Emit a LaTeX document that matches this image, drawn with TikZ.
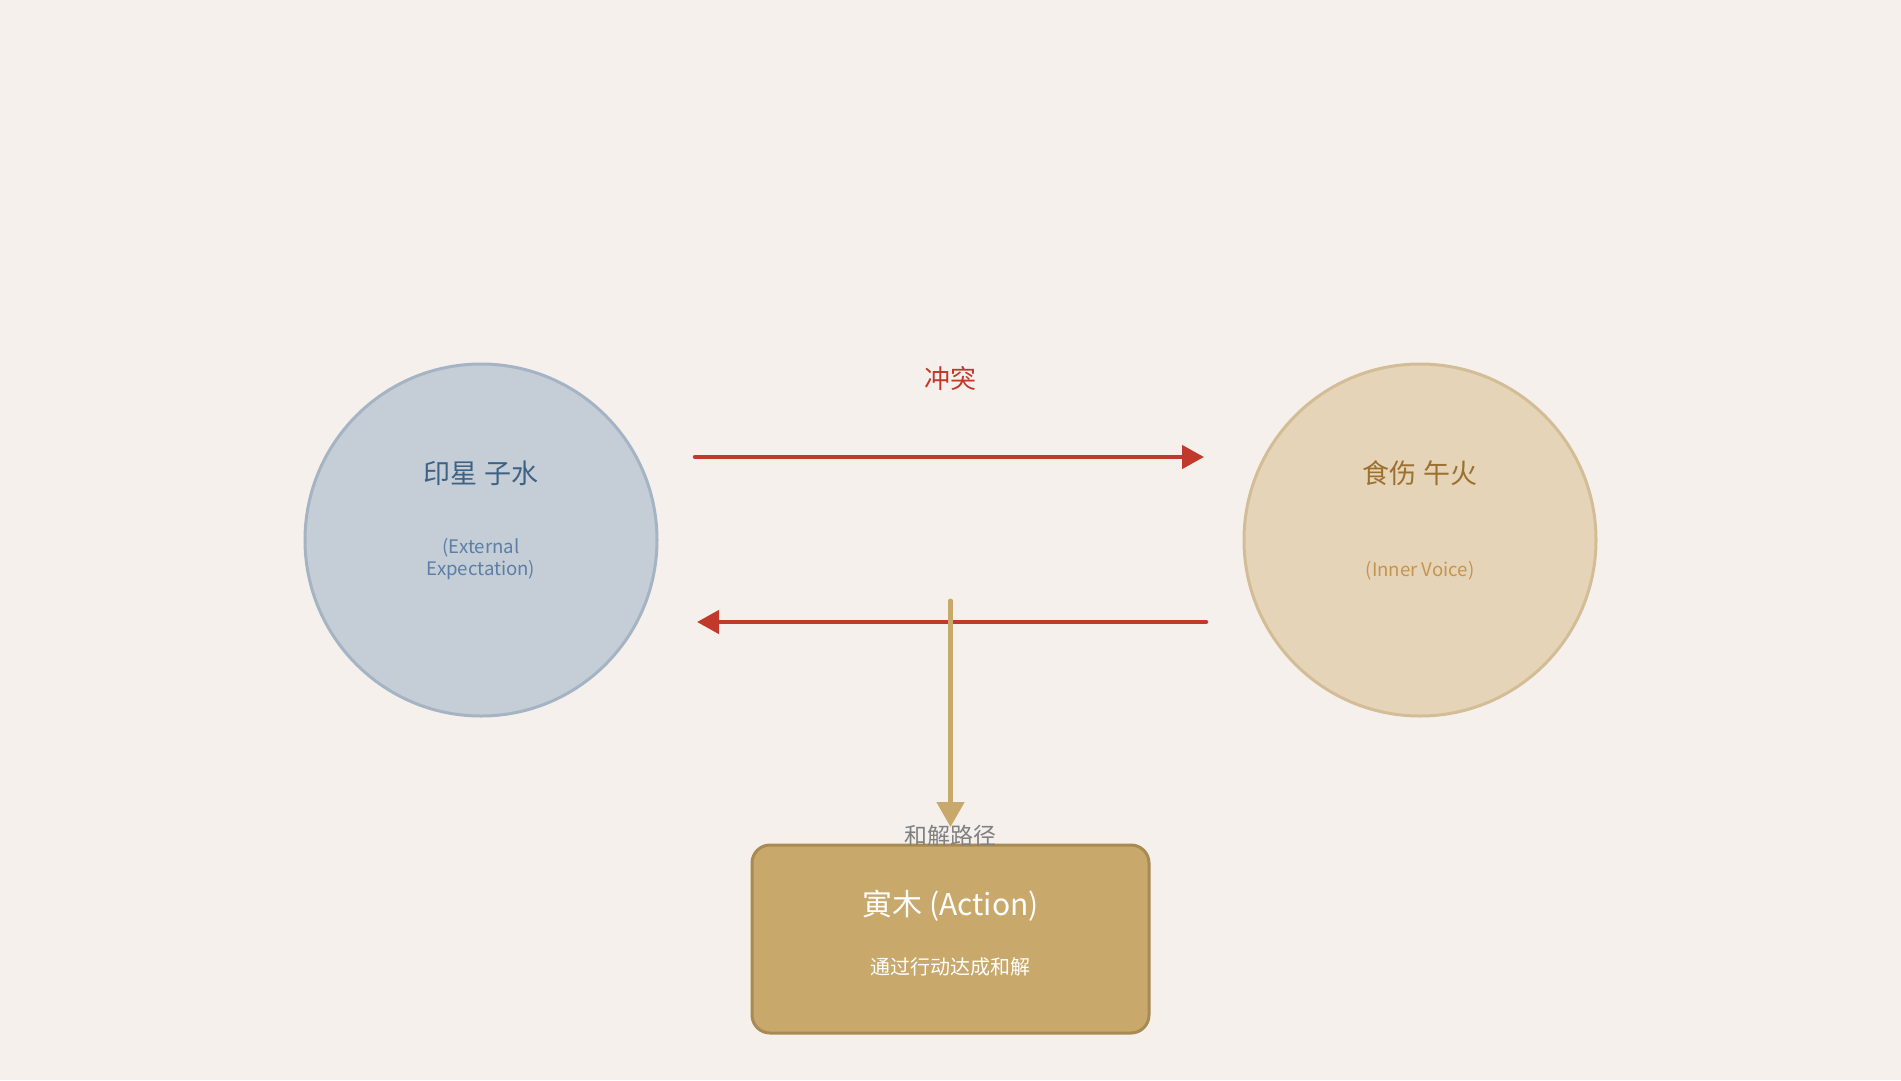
\documentclass[tikz,border=0pt]{standalone}
\usepackage{fontspec}
\setmainfont{Noto Sans CJK SC}
\usetikzlibrary{arrows.meta}
\definecolor{bgc}{HTML}{F5F0EB}
\definecolor{lfill}{HTML}{C5CDD6}
\definecolor{lstroke}{HTML}{A5B4C4}
\definecolor{ltitle}{HTML}{3C6286}
\definecolor{lsub}{HTML}{5B7FA6}
\definecolor{rfill}{HTML}{E5D4B7}
\definecolor{rstroke}{HTML}{D3BD96}
\definecolor{rtitle}{HTML}{9B7030}
\definecolor{rsub}{HTML}{C4954E}
\definecolor{redc}{HTML}{C0392B}
\definecolor{goldc}{HTML}{C8A86B}
\definecolor{goldb}{HTML}{A88A52}
\definecolor{grayc}{HTML}{808080}
\tikzset{
  circnode/.style={circle, minimum size=352pt, inner sep=0pt, line width=3pt},
  redarrow/.style={draw=redc, line width=4.5pt, line cap=round, -{Triangle[length=22pt,width=23pt]}},
  goldarrow/.style={draw=goldc, line width=5pt, line cap=round, -{Triangle[length=25pt,width=27pt]}},
  txt/.style={inner sep=0pt, anchor=center},
}
\begin{document}
\begin{tikzpicture}[x=1pt,y=-1pt]
\fill[bgc] (0,0) rectangle (1901,1080);
\useasboundingbox (0,0) rectangle (1901,1080);
% circles
\node[circnode, fill=lfill, draw=lstroke] (left) at (481,540) {};
\node[circnode, fill=rfill, draw=rstroke] (right) at (1420,540) {};
\node[txt, text=ltitle, font=\fontsize{27pt}{30pt}\selectfont] (ltxt) at (481,473.5) {印星 子水};
\node[txt, text=lsub, font=\fontsize{18.6pt}{22pt}\selectfont, align=center] (lsubt) at (481,559.5) {(External\\Expectation)};
\node[txt, text=rtitle, font=\fontsize{27pt}{30pt}\selectfont] (rtxt) at (1420,473.5) {食伤 午火};
\node[txt, text=rsub, font=\fontsize{18.6pt}{22pt}\selectfont] (rsubt) at (1420,570.5) {(Inner Voice)};
% conflict label
\node[txt, text=redc, font=\fontsize{26pt}{30pt}\selectfont] (conf) at (950.5,378.5) {冲突};
% arrow end points
\coordinate (a1s) at (695,457);
\coordinate (a1e) at (1204,457);
\coordinate (a2s) at (1206,622);
\coordinate (a2e) at (697,622);
\coordinate (vs) at (950.5,601);
\coordinate (ve) at (950.5,827);
\draw[redarrow] (a1s) -- (a1e);
\draw[redarrow] (a2s) -- (a2e);
% box
\node[draw=goldb, fill=goldc, line width=3pt, rounded corners=18pt, minimum width=397pt, minimum height=188pt, inner sep=0pt] (box) at (950.5,939) {};
\node[txt, text=white, font=\fontsize{30pt}{34pt}\selectfont] (btitle) at (950.5,906) {寅木 (Action)};
\node[txt, text=white, font=\fontsize{20pt}{24pt}\selectfont] (bsub) at (950.5,967) {通过行动达成和解};
\node[txt, text=grayc, font=\fontsize{23pt}{26pt}\selectfont] (path) at (950.5,836) {和解路径};
\draw[goldarrow] (vs) -- (ve);
\end{tikzpicture}
\end{document}
